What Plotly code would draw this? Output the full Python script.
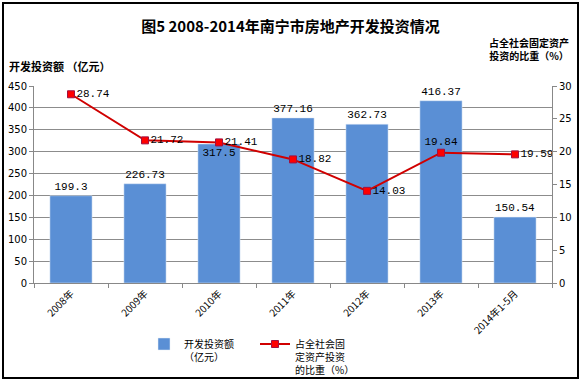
import plotly.graph_objects as go

categories = ["2008年", "2009年", "2010年", "2011年", "2012年", "2013年", "2014年1-5月"]
invest = [199.3, 226.73, 317.5, 377.16, 362.73, 416.37, 150.54]
share = [28.74, 21.72, 21.41, 18.82, 14.03, 19.84, 19.59]
invest_labels = ["199.3", "226.73", "317.5", "377.16", "362.73", "416.37", "150.54"]
share_labels = ["28.74", "21.72", "21.41", "18.82", "14.03", "19.84", "19.59"]

CJK = "Noto Sans CJK SC"
MONO = "Liberation Mono"

fig = go.Figure()
fig.add_trace(go.Bar(
    x=categories, y=invest, name="开发投资额<br>（亿元）",
    marker=dict(color="#5A8FD5"),
    text=invest_labels,
    textposition=["outside", "outside", "inside", "outside", "outside", "outside", "outside"],
    insidetextanchor="end",
    textfont=dict(family=MONO, size=11, color="black"),
    insidetextfont=dict(family=MONO, size=11, color="black"),
    outsidetextfont=dict(family=MONO, size=11, color="black"),
    cliponaxis=False,
    textangle=0,
))
fig.add_trace(go.Scatter(
    x=categories, y=share, name="占全社会固<br>定资产投资<br>的比重（%）",
    yaxis="y2", mode="lines+markers+text",
    line=dict(color="#D00000", width=2),
    marker=dict(symbol="square", size=7, color="#FF0000", line=dict(color="#A01040", width=1)),
    text=share_labels,
    textposition=["middle right", "middle right", "middle right", "middle right",
                  "middle right", "top center", "middle right"],
    textfont=dict(family=MONO, size=11, color="black"),
    cliponaxis=False,
))

fig.update_layout(
    width=581, height=383,
    margin=dict(l=34, r=29, t=86, b=100, autoexpand=False),
    paper_bgcolor="white", plot_bgcolor="white",
    bargap=0.43,
    showlegend=True,
    title=dict(text="<b>图5 2008-2014年南宁市房地产开发投资情况</b>",
               x=0.5, xanchor="center", y=1 - 27 / 383, yanchor="middle",
               font=dict(family=CJK, size=15, color="black")),
    font=dict(family=CJK, size=11, color="black"),
    xaxis=dict(
        type="category", showgrid=False, showline=True, linecolor="#888888",
        ticks="outside", tickson="boundaries", ticklen=4, tickcolor="#888888",
        tickangle=-45, tickfont=dict(family=CJK, size=10, color="black"),
    ),
    yaxis=dict(
        range=[0, 450], dtick=50, showgrid=True, gridcolor="#8C8C8C", gridwidth=1,
        showline=True, linecolor="#888888", ticks="outside", ticklen=4, tickcolor="#888888",
        tickfont=dict(family="DejaVu Sans", size=10, color="black"), zeroline=False,
    ),
    yaxis2=dict(
        range=[0, 30], dtick=5, overlaying="y", side="right", showgrid=False,
        showline=True, linecolor="#888888", ticks="outside", ticklen=4, tickcolor="#888888",
        tickfont=dict(family="DejaVu Sans", size=10, color="black"), zeroline=False,
    ),
    legend=dict(
        orientation="h", x=(144 - 34) / 518, xanchor="left", y=(283 - 331) / 197, yanchor="top",
        font=dict(family=CJK, size=10, color="black"),
        valign="top", entrywidth=66, bgcolor="rgba(0,0,0,0)",
    ),
    annotations=[
        dict(text="<b>开发投资额 （亿元）</b>", xref="paper", yref="paper",
             x=-27 / 518, y=(283 - 66) / 197, xanchor="left", yanchor="middle",
             showarrow=False, font=dict(family=CJK, size=11, color="black")),
        dict(text="<b>占全社会固定资产<br>投资的比重（%）</b>", xref="paper", yref="paper",
             x=(571 - 34) / 518, y=(283 - 65) / 197, xanchor="right", yanchor="bottom",
             showarrow=False, align="center", font=dict(family=CJK, size=10, color="black")),
    ],
    shapes=[
        dict(type="rect", xref="paper", yref="paper",
             x0=(3 - 34) / 518, x1=(578 - 34) / 518,
             y0=(283 - 378) / 197, y1=(283 - 3) / 197,
             line=dict(color="black", width=2), fillcolor="rgba(0,0,0,0)", layer="below"),
    ],
)

fig.write_html("out.html", config={"displayModeBar": False},
               post_script="document.body.style.margin='0';")
